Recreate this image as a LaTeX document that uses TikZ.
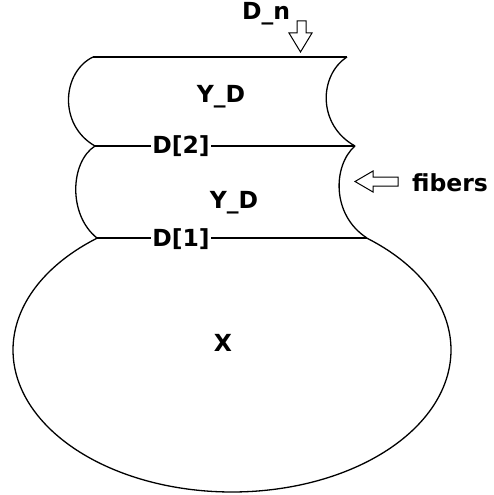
\documentclass[tikz,border=0pt]{standalone}
\usepackage{fontspec}
\setmainfont{DejaVu Sans}
\begin{document}
\begin{tikzpicture}[x=1pt,y=-1pt,
  line/.style={draw=black,line width=1.3pt},
  lbl/.style={font=\fontsize{23.5}{26}\selectfont\bfseries,inner sep=1pt},
  cut/.style={lbl,fill=white}]
\useasboundingbox (0,0) rectangle (493,495);
% corner coordinates
\coordinate (tl) at (93,57);
\coordinate (tr) at (347,57);
\coordinate (ml) at (95,146);
\coordinate (mr) at (355,146);
\coordinate (bl) at (97,238);
\coordinate (br) at (367,238);
% top section
\draw[line] (tl) -- (tr);
\draw[line] (tl) .. controls (62,72) and (58,125) .. (ml);
\draw[line] (tr) .. controls (319,75) and (317,125) .. (mr);
\draw[line] (ml) -- (mr);
% second section
\draw[line] (ml) .. controls (70,162) and (68,215) .. (bl);
\draw[line] (mr) .. controls (333,165) and (331,215) .. (br);
\draw[line] (bl) -- (br);
% base ellipse arc
\draw[line] plot[domain=-51.9:231.9,samples=120,smooth] ({232+219*cos(\x)},{350+142*sin(\x)});
% labels
\node[cut] (d2) at (181,146) {D[2]};
\node[cut] (d1) at (181,239) {D[1]};
\node[lbl] (y1) at (221,97) {Y\_D};
\node[lbl] (y2) at (234,203) {Y\_D};
\node[lbl] (x) at (223,343) {X};
\node[lbl] (dn) at (266,14) {D\_n};
\node[lbl] (fib) at (450,183) {fibers};
% hollow arrows
\draw[line,line width=1pt,fill=white] (297,21) -- (306,21) -- (306,33) -- (312,33) -- (300.5,52) -- (289,33) -- (297,33) -- cycle;
\draw[line,line width=1pt,fill=white] (398,177) -- (373,177) -- (373,171) -- (355,181.5) -- (373,192) -- (373,186) -- (398,186) -- cycle;
\end{tikzpicture}
\end{document}
